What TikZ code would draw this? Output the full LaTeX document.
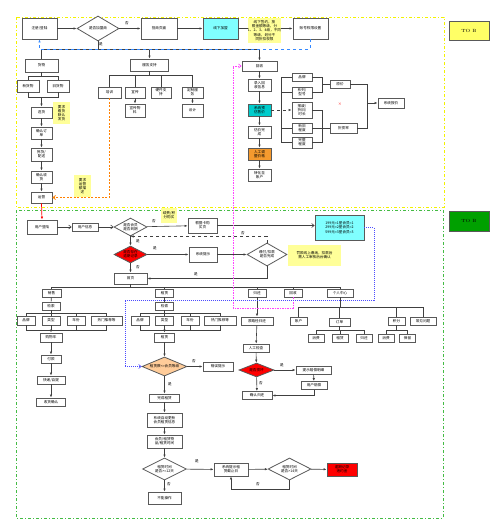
\documentclass[tikz,border=0pt]{standalone}
\usepackage{fontspec}
\newfontfamily\cn{Noto Sans CJK SC}
\usetikzlibrary{shapes.geometric,arrows.meta}
\definecolor{noteY}{HTML}{FFFF99}
\definecolor{cyanL}{HTML}{80FFFF}
\definecolor{teal2}{HTML}{00CCCC}
\definecolor{orng}{HTML}{F59A2E}
\definecolor{peach}{HTML}{FFCC99}
\definecolor{tobY}{HTML}{FFFF66}
\definecolor{tobG}{HTML}{00A000}
\definecolor{brdY}{HTML}{F2F200}
\definecolor{brdG}{HTML}{44BB44}
\definecolor{blueD}{HTML}{3388FF}
\definecolor{magD}{HTML}{FF44FF}
\begin{document}
\begin{tikzpicture}[x=1pt,y=-1pt,
 every node/.style={font=\cn\fontsize{3.6}{4.2}\selectfont},
 bx/.style={rectangle,draw=black!65,line width=0.8pt,fill=white,inner sep=0.3pt,align=center},
 dm/.style={diamond,draw=black!65,line width=0.8pt,fill=white,inner sep=0pt,align=center,shape aspect=2},
 note/.style={rectangle,fill=noteY,inner sep=0.3pt,align=center},
 ar/.style={draw=black!75,line width=0.6pt,-{Latex[length=3pt,width=2.4pt]}},
 ln/.style={draw=black!75,line width=0.6pt},
 oa/.style={draw=black!75,line width=0.6pt,-{Straight Barb[length=2.5pt,width=4pt]}},
 lb/.style={inner sep=0pt},
]
\useasboundingbox (0,0) rectangle (500,530);
% frames
\draw[brdY,line width=1pt,dash dot] (16,17) rectangle (444,207);
\draw[brdG,line width=1pt,dash dot] (16,210) rectangle (443,518);

% ---------- top section ----------
\node[bx,minimum width=35,minimum height=21] (reg) at (39.5,28.5) {注册/登陆};
\node[dm,minimum width=42,minimum height=25] (jm) at (98,28.5) {是否加盟商};
\node[bx,minimum width=36,minimum height=21] (zs) at (159,28.5) {招商页面};
\node[bx,fill=cyanL,minimum width=35,minimum height=21] (xx) at (220.5,28.5) {线下加盟};
\node[bx,minimum width=35,minimum height=21] (qx) at (310.5,28.5) {账号权限设置};
\node[rectangle,draw=black!65,line width=0.8pt,fill=tobY,minimum width=40,minimum height=19,font=\fontsize{4.5}{5}\selectfont] (tob1) at (469,30.5) {TO B};

\draw[ar] (reg) -- (jm);
\draw[ar] (jm) -- (zs);
\draw[ar] (zs) -- (xx);
\draw[ar] (xx) -- (qx);
\node[lb] (l01) at (127,23) {否};
\node[note,minimum width=33,minimum height=25] (n1) at (264.5,30.5) {线下签约，按\\照金额等级，分\\1、2、3、4级，不同\\等级，划分不\\同折扣权限};

\node[lb] (l02) at (101,44) {是};
\draw[ln] (jm.south) -- (98,49);
\draw[ln] (41.5,49) -- (259.5,49);

\node[bx,minimum width=33,minimum height=13] (hw) at (41.5,65.5) {货物};
\node[bx,minimum width=38,minimum height=12] (fw) at (149.5,65) {服务支持};
\node[bx,minimum width=35,minimum height=10] (hs) at (259.5,66) {回收};
\draw[ln] (41.5,49) -- (hw.north);
\draw[ar] (149.5,49) -- (fw.north);
\draw[ar] (259.5,49) -- (hs.north);
\draw[blueD,line width=0.7pt,dashed,-{Latex[length=3pt,width=2.4pt]}] (qx.south) -- (310.5,49) -| (reg.south);

% goods column
\node[bx,minimum width=22,minimum height=12] (xhw) at (28,86) {新货物};
\node[bx,minimum width=22,minimum height=12] (jhw) at (58,86) {旧货物};
\draw[ln] (hw.south) -- (41.5,76);
\draw[ln] (28,76) -- (58,76);
\draw[ln] (28,76) -- (xhw.north);
\draw[ln] (58,76) -- (jhw.north);
\draw[ln] (xhw.south) -- (28,97) -- (58,97) -- (jhw.south);
\node[bx,minimum width=21,minimum height=11] (xh) at (41.5,112.5) {选货};
\draw[ar] (41.5,97) -- (xh.north);
\node[note,minimum width=17,minimum height=22] (n2) at (61.5,113) {要求\\看货\\默认\\发货};
\node[bx,minimum width=21,minimum height=12] (qd) at (41.5,133) {确认订\\单};
\node[bx,minimum width=21,minimum height=13] (ph) at (41.5,154.5) {拣货/\\配送};
\node[bx,minimum width=21,minimum height=12] (sh) at (41.5,177) {确认收\\货};
\node[bx,minimum width=21,minimum height=11] (yy) at (41.5,197.5) {运营};
\node[note,minimum width=17,minimum height=22] (n3) at (82.5,186) {要求\\运营\\额描\\述};
\draw[ar] (xh) -- (qd);
\draw[ar] (qd) -- (ph);
\draw[ar] (ph) -- (sh);
\draw[ar] (sh) -- (yy);

% service column
\node[bx,minimum width=23,minimum height=11] (px) at (109.5,92.5) {培训};
\node[bx,minimum width=20,minimum height=11] (xc) at (135,92.5) {宣传};
\node[bx,minimum width=20,minimum height=11] (yj) at (161,92.5) {硬件支\\持};
\node[bx,minimum width=21,minimum height=11] (dz) at (192.5,92.5) {定制服\\务};
\node[bx,minimum width=20,minimum height=13] (wl) at (135,110.5) {宣传物\\料};
\node[bx,minimum width=21,minimum height=13] (sj) at (192.5,110.5) {设计};
\draw[ln] (fw.south) -- (149.5,75);
\draw[ln] (109.5,75) -- (192.5,75);
\draw[ln] (109.5,75) -- (px.north);
\draw[ln] (135,75) -- (xc.north);
\draw[ln] (161,75) -- (yj.north);
\draw[ln] (192.5,75) -- (dz.north);
\draw[ar] (xc) -- (wl);
\draw[ar] (dz) -- (sj);
\draw[orange,line width=0.8pt,dash pattern=on 2pt off 1.5pt,-{Straight Barb[length=2.5pt,width=4pt]}] (px.south) |- (yy.east);

% recycle column
\node[bx,minimum width=23,minimum height=12] (lr) at (259.5,85) {录入回\\收信息};
\node[bx,fill=teal2,minimum width=23,minimum height=12] (yg) at (259.5,110) {系统预\\估售价};
\node[bx,minimum width=23,minimum height=12] (gj) at (259.5,132) {估价完\\成};
\node[bx,fill=orng,minimum width=23,minimum height=12] (rg) at (259.5,154) {人工调\\整价格};
\node[bx,minimum width=23,minimum height=12] (zh) at (259.5,175) {转化至\\账户};
\draw[ar] (hs) -- (lr);
\draw[ar] (lr) -- (yg);
\draw[ar] (yg) -- (gj);
\draw[ar] (gj) -- (rg);
\draw[ar] (rg) -- (zh);

\node[bx,minimum width=20,minimum height=8] (pp) at (302,77) {品牌};
\node[bx,minimum width=20,minimum height=11] (xl) at (302,92.5) {系列/\\型号};
\node[bx,minimum width=20,minimum height=16] (bf) at (302,110) {报废/\\折旧/\\时长};
\node[bx,minimum width=20,minimum height=10] (xj) at (302,128) {新旧\\程度};
\node[bx,minimum width=20,minimum height=11] (wz) at (302,142.5) {完整\\程度};
\draw[ln,dashed,-{Latex[length=3pt,width=2.4pt]}] (yg.east) -- (bf.west);
\draw[ln] (281,77) -- (281,142.5);
\draw[ln] (281,77) -- (pp.west);
\draw[ln] (281,92.5) -- (xl.west);
\draw[ln] (281,128) -- (xj.west);
\draw[ln] (281,142.5) -- (wz.west);
\node[bx,minimum width=20,minimum height=8] (yjg) at (340,84) {原价};
\node[bx,minimum width=27,minimum height=10] (zsl) at (343.5,128) {折损率};
\node[bx,minimum width=26,minimum height=10] (bj) at (391,103) {系统报价};
\draw[ln] (pp.east) -- (322,77) -- (322,92.5) -- (xl.east);
\draw[ln] (322,84) -- (yjg.west);
\draw[ln] (bf.east) -- (322,110) -- (322,142.5) -- (wz.east);
\draw[ln] (xj.east) -- (zsl.west);
\draw[ln] (yjg.east) -- (367,84) -- (367,128) -- (zsl.east);
\draw[ar] (367,103) -- (bj.west);
\node[lb,text=red] (rx) at (340,104) {×};

% ---------- bottom section ----------
\node[bx,minimum width=30,minimum height=14] (dl) at (42,227) {用户登陆};
\node[bx,minimum width=26,minimum height=8] (xi) at (85,227) {用户信息};
\node[dm,minimum width=33,minimum height=18] (d1) at (130.5,227) {是否会员\\是否到期};
\node[bx,minimum width=29,minimum height=15] (gm) at (202.5,225.5) {根据卡购\\买页};
\node[bx,fill=cyanL,minimum width=49,minimum height=25] (hy) at (339.5,227.5) {199元=1星会员=1\\299元=2星会员=2\\599元=3星会员=3};
\node[rectangle,draw=black!65,line width=0.8pt,fill=tobG,minimum width=40,minimum height=20,font=\fontsize{4.5}{5}\selectfont] (tob2) at (469,221) {TO B};
\node[dm,fill=red,minimum width=33,minimum height=17] (rd) at (130.5,254.5) {是否存在\\逾期记录};
\node[bx,minimum width=28,minimum height=15] (ts) at (203,254.5) {系统提示};
\node[dm,minimum width=40,minimum height=23] (d2) at (267,254.5) {缴付/扣款\\是否完成};
\node[bx,minimum width=33,minimum height=11] (sy) at (130.5,278.5) {首页};

\draw[oa] (dl) -- (xi);
\draw[oa] (xi) -- (d1);
\draw[ar] (d1) -- (gm);
\draw[oa] (gm.east) -- (gm.east -| hy.west);
\draw[ar] (d1) -- (rd);
\draw[ar] (rd) -- (ts);
\draw[ar] (ts) -- (d2);
\draw[ar] (rd) -- (sy);
\draw[ln,dashed,-{Latex[length=3pt,width=2.4pt]}] (d2.north) |- (d1.south);
\draw[ar] (d2.south) |- (sy.east);
\node[note,minimum width=16,minimum height=15] (n4) at (169,215.5) {续费/积\\分购买};
\node[note,minimum width=53,minimum height=21] (n5) at (314.5,255.5) {罚款线上缴纳，扣款后\\需人工审核后台确认};
\node[lb] (l03) at (154,221) {否};
\node[lb] (l04) at (138,241) {是};
\node[lb] (l05) at (243,233) {否};
\node[lb] (l06) at (155,248) {是};
\node[lb] (l07) at (138,267) {否};
\node[lb] (l08) at (196,274) {是};

% hub children
\node[bx,minimum width=19,minimum height=8] (xs) at (51.5,293) {销售};
\node[bx,minimum width=18,minimum height=8] (zl) at (164.5,293) {租赁};
\node[bx,minimum width=18,minimum height=8] (gh) at (257,293) {归还};
\node[bx,minimum width=18,minimum height=8] (hs2) at (293,293) {回收};
\node[bx,minimum width=26,minimum height=8] (gr) at (340,293) {个人中心};
\draw[ln] (sy.south) -- (130.5,287);
\draw[ln] (51.5,287) -- (340,287);
\draw[ln] (51.5,287) -- (xs.north);
\draw[ln] (164.5,287) -- (zl.north);
\draw[ln] (257,287) -- (gh.north);
\draw[ln] (293,287) -- (hs2.north);
\draw[ln] (340,287) -- (gr.north);

% sales branch
\node[bx,minimum width=18,minimum height=8] (js1) at (51,306) {检索};
\node[bx,minimum width=18,minimum height=9] (pp1) at (26,320.5) {品牌};
\node[bx,minimum width=18,minimum height=9] (lx1) at (51,320.5) {类型};
\node[bx,minimum width=18,minimum height=9] (nf1) at (76,320.5) {年份};
\node[bx,minimum width=31,minimum height=9] (rm1) at (106.5,320.5) {热门推荐等};
\node[bx,minimum width=22,minimum height=9] (gwc) at (51,337.5) {购物车};
\node[bx,minimum width=20,minimum height=8] (fk) at (51,359) {付款};
\node[bx,minimum width=28,minimum height=8] (kd) at (51,380) {快递/自提};
\node[bx,minimum width=29,minimum height=8] (qr) at (51,402) {收货确认};
\draw[ln] (xs) -- (js1);
\draw[ln] (js1.south) -- (51,313);
\draw[ln] (26,313) -- (106.5,313);
\draw[ln] (26,313) -- (pp1.north);
\draw[ln] (51,313) -- (lx1.north);
\draw[ln] (76,313) -- (nf1.north);
\draw[ln] (106.5,313) -- (rm1.north);
\draw[ln] (pp1.south) -- (26,330) -- (106.5,330) -- (rm1.south);
\draw[ln] (lx1.south) -- (51,330);
\draw[ln] (nf1.south) -- (76,330);
\draw[ar] (51,330) -- (gwc.north);
\draw[ar] (gwc) -- (fk);
\draw[ar] (fk) -- (kd);
\draw[ar] (kd) -- (qr);

% rental branch
\node[bx,minimum width=18,minimum height=8] (js2) at (164.5,306) {检索};
\node[bx,minimum width=18,minimum height=9] (pp2) at (140,320.5) {品牌};
\node[bx,minimum width=18,minimum height=9] (lx2) at (164.5,320.5) {类型};
\node[bx,minimum width=18,minimum height=9] (nf2) at (190,320.5) {年份};
\node[bx,minimum width=32,minimum height=9] (rm2) at (220,320.5) {热门推荐等};
\node[bx,minimum width=20,minimum height=9] (zl2) at (164.5,337.5) {租赁};
\node[dm,fill=peach,shape aspect=2.4,minimum width=45,minimum height=19] (od) at (164.5,366.5) {租赁数<=会员等级};
\node[bx,minimum width=30,minimum height=9] (cw) at (218,366.5) {错误提示};
\node[bx,minimum width=30,minimum height=8] (wc) at (164.5,398) {完成租赁};
\node[bx,minimum width=35,minimum height=14] (gx) at (164.5,420) {系统自动更新\\会员租赁信息};
\node[bx,minimum width=35,minimum height=13] (hyz) at (164.5,441.5) {会员/租赁物\\品/租赁时间};
\node[dm,minimum width=44,minimum height=22] (d3) at (164.5,469) {租赁时间\\是否>=12天};
\node[bx,minimum width=34,minimum height=13] (jz) at (231,469.5) {系统提示租\\赁截止日};
\node[dm,minimum width=43,minimum height=22] (d4) at (289.5,469) {租赁时间\\是否>14天};
\node[bx,fill=red,minimum width=30,minimum height=13] (yq) at (342,469.5) {逾期记录\\违约金};
\node[bx,minimum width=33,minimum height=12] (bn) at (164.5,498) {不能操作};
\draw[ln] (zl) -- (js2);
\draw[ln] (js2.south) -- (164.5,313);
\draw[ln] (140,313) -- (220,313);
\draw[ln] (140,313) -- (pp2.north);
\draw[ln] (164.5,313) -- (lx2.north);
\draw[ln] (190,313) -- (nf2.north);
\draw[ln] (220,313) -- (rm2.north);
\draw[ln] (pp2.south) -- (140,330) -- (220,330) -- (rm2.south);
\draw[ln] (lx2.south) -- (164.5,330);
\draw[ln] (nf2.south) -- (190,330);
\draw[ar] (164.5,330) -- (zl2.north);
\draw[ar] (zl2) -- (od);
\draw[ar] (od) -- (cw);
\draw[ar] (od) -- (wc);
\draw[ar] (wc) -- (gx);
\draw[ar] (gx) -- (hyz);
\draw[ar] (hyz) -- (d3);
\draw[ar] (d3) -- (jz);
\draw[ar] (jz) -- (d4);
\draw[ar] (d4) -- (yq);
\draw[ar] (d4.south) -- (289.5,489) -| (jz.south);
\draw[ar] (d3) -- (bn);
\node[lb] (l09) at (194,361) {否};
\node[lb] (l10) at (170,384) {是};
\node[lb] (l11) at (197,461) {是};
\node[lb] (l12) at (258,484) {否};
\node[lb] (l13) at (169,484) {否};

% return branch
\node[bx,minimum width=32,minimum height=8] (lj) at (257,321) {原路径归还};
\node[bx,minimum width=26,minimum height=8] (jc) at (256,348) {人工检查};
\node[dm,fill=red,shape aspect=2.4,minimum width=35,minimum height=14] (sh2) at (256.5,370) {是否损坏};
\node[bx,minimum width=35,minimum height=8] (pc) at (313.5,370) {提示赔偿明细};
\node[bx,minimum width=26,minimum height=8] (yp) at (314,385.5) {用户赔偿};
\node[bx,minimum width=30,minimum height=8] (qg) at (257,395.5) {确认归还};
\draw[ar] (gh) -- (lj);
\draw[ar] (lj) -- (jc);
\draw[ar] (jc) -- (sh2);
\draw[ar] (sh2) -- (pc);
\draw[ar] (pc) -- (yp);
\draw[ar] (yp.south) |- (qg.east);
\draw[ar] (sh2) -- (qg);
\node[lb] (l14) at (282,365) {是};
\node[lb] (l15) at (261,383) {否};

% personal centre
\node[bx,minimum width=17,minimum height=8] (zhh) at (298.5,321.5) {账户};
\node[bx,minimum width=21,minimum height=8] (dd) at (339.5,322) {订单};
\node[bx,minimum width=17,minimum height=8] (jf) at (396.5,321) {积分};
\node[bx,minimum width=26,minimum height=8] (cj) at (423,321) {常见问题};
\node[bx,minimum width=16,minimum height=8] (xf1) at (316,338) {消费};
\node[bx,minimum width=16,minimum height=8] (zl3) at (340,338) {租赁};
\node[bx,minimum width=16,minimum height=8] (gh3) at (364,338) {归还};
\node[bx,minimum width=16,minimum height=8] (xf2) at (386,338) {消费};
\node[bx,minimum width=16,minimum height=8] (bl) at (407.5,338) {保留};
\draw[ln] (gr.south) -- (340,307);
\draw[ln] (298.5,307) -- (423,307);
\draw[ln] (298.5,307) -- (zhh.north);
\draw[ln] (339.5,307) -- (dd.north);
\draw[ln] (396.5,307) -- (jf.north);
\draw[ln] (423,307) -- (cj.north);
\draw[ln] (dd.south) -- (339.5,330);
\draw[ln] (316,330) -- (364,330);
\draw[ln] (316,330) -- (xf1.north);
\draw[ln] (340,330) -- (zl3.north);
\draw[ln] (364,330) -- (gh3.north);
\draw[ln] (jf.south) -- (396.5,330);
\draw[ln] (386,330) -- (407.5,330);
\draw[ln] (386,330) -- (xf2.north);
\draw[ln] (407.5,330) -- (bl.north);

% long dotted connectors
\draw[magD,line width=0.7pt,dash pattern=on 1.5pt off 1pt,-{Straight Barb[length=2.5pt,width=4pt]}] (hs2.south) -- (293,308) -- (233,308) -- (233,66) -- (hs.west);
\draw[blue!70,line width=0.6pt,dash pattern=on 1pt off 1pt,-{Straight Barb[length=2.5pt,width=4pt]}] (hy.east) -- (374,227.5) -- (374,300) -- (125,300) -- (125,366.5) -- (od.west);
\draw[red,line width=0.7pt,-{Latex[length=3pt,width=2.4pt]}] (yy.south) -- (dl.north);
\end{tikzpicture}
\end{document}
